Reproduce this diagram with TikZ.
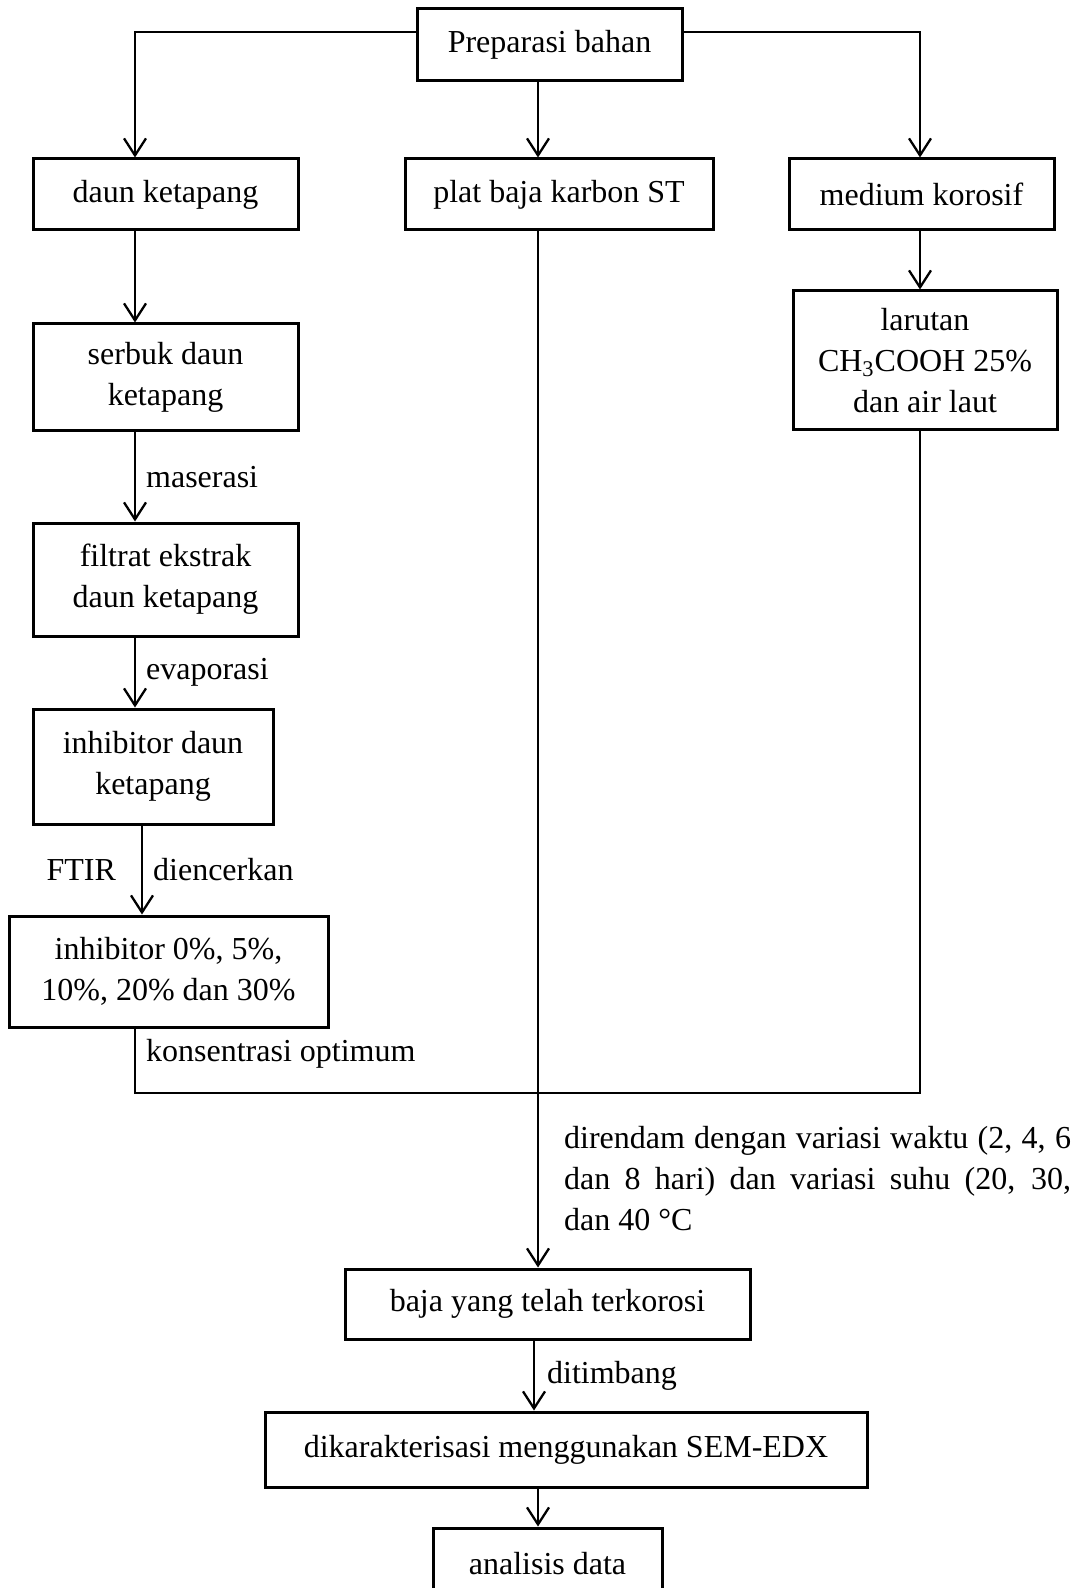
\documentclass[tikz,border=0pt]{standalone}
\usepackage{fontspec}
\setmainfont{Liberation Serif}
\usetikzlibrary{arrows.meta}
\begin{document}
\begin{tikzpicture}[x=0.5pt,y=-0.5pt,line width=1.15pt,line cap=butt,
	box/.style={draw,line width=1.5pt,align=center,inner sep=0pt,font=\fontsize{16}{20.5}\selectfont},
	lbl/.style={inner sep=0pt,font=\fontsize{16}{20.5}\selectfont},
	arr/.style={-{Straight Barb[length=8.5pt,width=11pt]}}]
	\useasboundingbox (0,0) rectangle (1078,1588);
	\clip (0,0) rectangle (1078,1588);
	% boxes
	\node[box,minimum width=132.5pt,minimum height=36pt] (prep) at (549.5,45) {Preparasi bahan};
	\node[box,minimum width=132.5pt,minimum height=35.5pt] (daun) at (165.5,194.5) {daun ketapang};
	\node[box,minimum width=154pt,minimum height=35.5pt] (plat) at (559,194.5) {plat baja karbon ST};
	\node[box,minimum width=132.5pt,minimum height=35.5pt] (medium) at (921.5,194.5) {medium korosif};
	\node[box,minimum width=132.5pt,minimum height=53.5pt] (serbuk) at (165.5,377.5) {serbuk daun\\ketapang};
	\node[box,minimum width=132.5pt,minimum height=56.5pt] (filtrat) at (165.5,579.5) {filtrat ekstrak\\daun ketapang};
	\node[box,minimum width=120pt,minimum height=57.5pt] (inhib) at (153,766.5) {inhibitor daun\\ketapang};
	\node[box,minimum width=159.5pt,minimum height=55.5pt] (konsen) at (168.5,971.5) {inhibitor 0\%, 5\%,\\10\%, 20\% dan 30\%};
	\node[box,minimum width=132pt,minimum height=69.5pt] (larutan) at (925,360.5) {larutan\\CH\textsubscript{3}COOH 25\%\\dan air laut};
	\node[box,minimum width=202.5pt,minimum height=35pt] (baja) at (547.5,1304) {baja yang telah terkorosi};
	\node[box,minimum width=301pt,minimum height=37.5pt] (sem) at (566,1449.5) {dikarakterisasi menggunakan SEM-EDX};
	\node[box,minimum width=114.5pt,minimum height=36pt] (analisis) at (547.5,1564) {analisis data};
	% line positions
	\coordinate (split) at (0,32);
	\coordinate (join) at (0,1093);
	\coordinate (colL) at (135,0);
	\coordinate (colM) at (142,0);
	\coordinate (colR) at (920,0);
	\coordinate (trunk) at (538,0);
	\coordinate (colB) at (534,0);
	% top branches
	\draw[arr] (prep.west |- split) -| (colL |- daun.north);
	\draw[arr] (prep.east |- split) -| (colR |- medium.north);
	\draw[arr] (prep.south -| trunk) -- (plat.north -| trunk);
	% left column
	\draw[arr] (daun.south -| colL) -- (serbuk.north -| colL);
	\draw[arr] (serbuk.south -| colL) -- node[lbl,right=5pt]{maserasi} (filtrat.north -| colL);
	\draw[arr] (filtrat.south -| colL) -- node[lbl,right=5pt]{evaporasi} (inhib.north -| colL);
	\draw[arr] (inhib.south -| colM) -- node[lbl,right=5pt]{diencerkan} node[lbl,left=12.5pt]{FTIR} (konsen.north -| colM);
	% right column
	\draw[arr] (medium.south -| colR) -- (larutan.north -| colR);
	% joining line
	\draw (konsen.south -| colL) -- node[lbl,right=5pt,pos=0.39]{konsentrasi optimum} (colL |- join) -- (colR |- join) -- (larutan.south -| colR);
	% trunk
	\draw[arr] (plat.south -| trunk) -- (baja.north -| trunk);
	\node[lbl,anchor=west,align=left] (rendam) at (563,1179) {\makebox[253.5pt][s]{direndam dengan variasi waktu (2, 4, 6}\\\makebox[253.5pt][s]{dan 8 hari) dan variasi suhu (20, 30,}\\dan 40 °C};
	\draw[arr] (baja.south -| colB) -- node[lbl,right=6pt]{ditimbang} (sem.north -| colB);
	\draw[arr] (sem.south -| trunk) -- (analisis.north -| trunk);
\end{tikzpicture}
\end{document}
